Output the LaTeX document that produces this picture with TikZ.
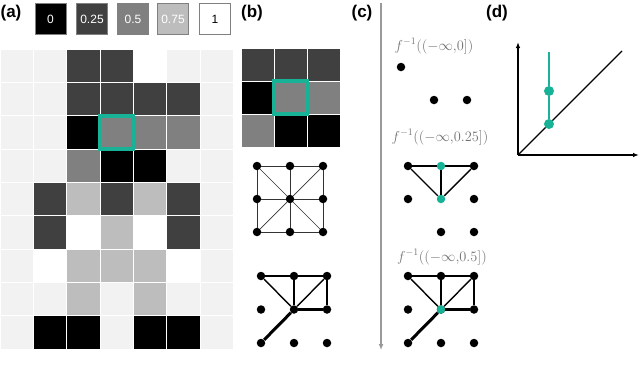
\documentclass[tikz,border=0pt]{standalone}
\usepackage{fontspec}
\setmainfont{Liberation Sans}
\usetikzlibrary{arrows.meta,positioning}

\definecolor{tealhi}{RGB}{24,178,150}
\colorlet{val0}{black}
\colorlet{val1}{black!75}
\colorlet{val2}{black!50}
\colorlet{val3}{black!26}
\colorlet{val4}{white}
\colorlet{valL}{black!5}

\begin{document}
\begin{tikzpicture}[x=1pt, y=-1pt,
  font=\fontsize{12}{14}\selectfont,
  panellabel/.style={font=\fontsize{17}{20}\selectfont\bfseries},
  swatch/.style={draw=black!50, line width=0.8pt, minimum size=31pt, inner sep=0pt},
  cell/.style={draw=white, line width=0.8pt},
  hilite/.style={draw=tealhi, line width=3.2pt},
  vtx/.style={circle, fill=black, minimum size=8.5pt, inner sep=0pt},
  hit/.style={vtx, fill=tealhi},
  gridedge/.style={draw=black!80, line width=0.7pt},
  edge/.style={draw=black, line width=1.4pt},
  heavy/.style={draw=black, line width=3pt},
  flabel/.style={text=black!55, font=\fontsize{14}{16}\selectfont},
  axis/.style={draw=black, line width=1.2pt, -{Latex[length=6pt,width=4.5pt]}}
]
  \useasboundingbox (0,0) rectangle (640,373);

  % panel labels
  \node[panellabel] (lblA) at (11,13) {(a)};
  \node[panellabel] (lblB) at (252,13) {(b)};
  \node[panellabel] (lblC) at (362,13) {(c)};
  \node[panellabel] (lblD) at (497,13) {(d)};

  % grey-level key
  \node[swatch, fill=val0, text=white] (key0) at (50.5,19) {0};
  \node[swatch, fill=val1, text=white] (key1) at (92,19) {0.25};
  \node[swatch, fill=val2, text=white] (key2) at (133,19) {0.5};
  \node[swatch, fill=val3, text=white] (key3) at (173,19) {0.75};
  \node[swatch, fill=val4] (key4) at (215,19) {1};

  % (a) image
  \foreach \vals [count=\r] in {{L,L,1,1,4,L,L},{L,L,1,1,1,1,L},{L,L,0,2,2,2,L},
      {L,L,2,0,0,L,L},{L,1,3,1,3,1,L},{L,1,4,3,4,1,L},{L,4,3,3,3,4,L},
      {L,L,3,L,3,L,L},{L,0,0,L,0,0,L}}
    \foreach \v [count=\c] in \vals
      \path[cell, fill=val\v] ({(\c-1)*33.33},{49+(\r-1)*33.33}) rectangle ++(33.33,33.33);
  \draw[hilite] (100,116) rectangle (133.3,149);

  % (b) patch
  \foreach \vals [count=\r] in {{1,1,1},{0,2,2},{2,0,0}}
    \foreach \v [count=\c] in \vals
      \path[cell, fill=val\v] ({241+(\c-1)*33},{48+(\r-1)*33}) rectangle ++(33,33);
  \draw[hilite] (274,81) rectangle (307,114);

  % (b) neighbourhood graph
  \foreach \i in {0,1,2}
    \foreach \j in {0,1,2}
      \node[vtx] (m\i\j) at ({257+33*\i},{166+33*\j}) {};
  \foreach \a/\b in {m00/m10, m10/m20, m01/m11, m11/m21, m02/m12, m12/m22,
      m00/m01, m01/m02, m10/m11, m11/m12, m20/m21, m21/m22,
      m00/m11, m20/m11, m02/m11, m22/m11}
    \draw[gridedge] (\a) -- (\b);

  % (b) weighted graph
  \foreach \i in {0,1,2}
    \foreach \j in {0,1,2}
      \node[vtx] (p\i\j) at ({261+33*\i},{276+33.5*\j}) {};
  \foreach \a/\b in {p00/p10, p10/p20, p00/p11, p10/p11, p20/p11, p20/p21}
    \draw[edge] (\a) -- (\b);
  \draw[heavy] (p11) -- (p21);
  \draw[heavy] (p11) -- (p02);

  % (c) sublevel sets
  \coordinate (ctop) at (381,3);
  \coordinate (cbot) at (381,350);
  \draw[black!40, line width=1.3pt, -{Latex[length=6pt,width=5pt]}] (ctop) -- (cbot);

  \node[flabel] (f0) at (434,46) {$f^{-1}((-\infty{,}0])$};
  \node[vtx] (s01) at (401,67) {};
  \node[vtx] (s12) at (434,100) {};
  \node[vtx] (s22) at (467,100) {};

  \node[flabel] (f1) at (440,137) {$f^{-1}((-\infty{,}0.25])$};
  \foreach \n/\i/\j/\s in {t00/0/0/vtx, t10/1/0/hit, t20/2/0/vtx, t01/0/1/vtx,
      t11/1/1/hit, t21/2/1/vtx, t12/1/2/vtx, t22/2/2/vtx}
    \node[\s] (\n) at ({408+33*\i},{166+33*\j}) {};
  \foreach \a/\b in {t00/t10, t10/t20, t00/t11, t10/t11, t20/t11}
    \draw[edge] (\a) -- (\b);

  \node[flabel] (f2) at (442,257) {$f^{-1}((-\infty{,}0.5])$};
  \foreach \i in {0,1,2}
    \foreach \j in {0,1,2}
      \node[vtx] (u\i\j) at ({408+33*\i},{276+33.5*\j}) {};
  \node[hit] at (u11) {};
  \foreach \a/\b in {u00/u10, u10/u20, u00/u11, u10/u11, u20/u11, u20/u21}
    \draw[edge] (\a) -- (\b);
  \draw[heavy] (u11) -- (u21);
  \draw[heavy] (u11) -- (u02);

  % (d) persistence diagram
  \coordinate (origin) at (518,155);
  \coordinate (xend) at (639,155);
  \coordinate (yend) at (518,42);
  \coordinate (diagend) at (622,51);
  \coordinate (vtop) at (549,52);
  \draw[axis] (origin) -- (xend);
  \draw[axis] (origin) -- (yend);
  \draw[line width=1.1pt] (origin) -- (diagend);
  \node[hit, minimum size=10pt] (birth) at (549,124) {};
  \node[hit, minimum size=10pt] (death) at (549,91) {};
  \draw[tealhi, line width=1.6pt] (vtop) -- (death);
  \draw[tealhi, line width=1.6pt] (death) -- (birth);
\end{tikzpicture}
\end{document}
